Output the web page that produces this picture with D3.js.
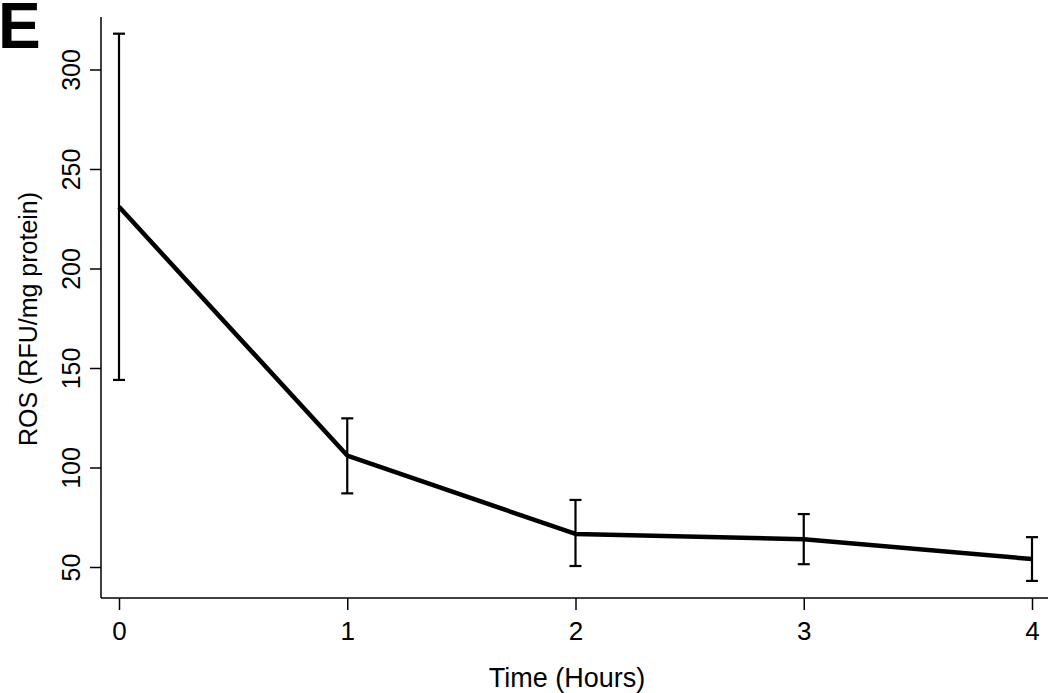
<!DOCTYPE html>
<meta charset='utf-8'>
<style>
  body { margin: 0; background: #fff; }
  svg text { font-family: Arial, "Liberation Sans", sans-serif; fill: #000; }
</style>
<body>
<div id="viz"></div>
<script src="https://d3js.org/d3.v7.min.js"></script>
<script>
// time points (hours) and ROS means with error bar ends
const hours = [0, 1, 2, 3, 4];
const rosMean = [231, 106, 66.6, 64, 54];
const rosLow = [144, 87, 50.5, 51.4, 43];
const rosHigh = [318, 124.7, 83.7, 76.6, 65];
const yTicks = [50, 100, 150, 200, 250, 300];

const data = hours.map((h, i) => ({ h: h, m: rosMean[i], lo: rosLow[i], hi: rosHigh[i] }));

const W = 1050, H = 693;
const svg = d3.select('#viz').append('svg').attr('width', W).attr('height', H);

const x = d3.scaleLinear().domain([0, 4]).range([119, 1032]);
const y = d3.scaleLinear().domain([50, 300]).range([567, 69.5]);

// panel letter
svg.append('text').attr('x', -2).attr('y', 48)
  .style('font-size', '64px').style('font-weight', 'bold').text('E');

// axes drawn as open L box
svg.append('line').attr('x1', 101).attr('x2', 101).attr('y1', 17).attr('y2', 598)
  .attr('stroke', '#000').attr('stroke-width', 1.5);
svg.append('line').attr('x1', 101).attr('x2', 1048).attr('y1', 598).attr('y2', 598)
  .attr('stroke', '#000').attr('stroke-width', 1.5);

const yAxis = svg.append('g').attr('transform', 'translate(101,0)')
  .call(d3.axisLeft(y).tickValues(yTicks).tickSize(11));
yAxis.select('.domain').remove();
// labels turned on their side, like the reference
yAxis.selectAll('text')
  .style('font-size', '25px')
  .attr('text-anchor', 'middle')
  .attr('x', 0).attr('y', 0).attr('dy', 0)
  .attr('transform', 'translate(-21,0) rotate(-90)');
yAxis.selectAll('line').attr('stroke-width', 1.5);

const xAxis = svg.append('g').attr('transform', 'translate(0,598)')
  .call(d3.axisBottom(x).tickValues(hours).tickFormat(d3.format('d')).tickSize(12).tickPadding(12));
xAxis.select('.domain').remove();
xAxis.selectAll('text').style('font-size', '26px');
xAxis.selectAll('line').attr('stroke-width', 1.5);

// axis titles
svg.append('text').attr('transform', 'translate(37,319) rotate(-90)')
  .attr('text-anchor', 'middle').style('font-size', '25px').text('ROS (RFU/mg protein)');
svg.append('text').attr('x', 567).attr('y', 687)
  .attr('text-anchor', 'middle').style('font-size', '27px').text('Time (Hours)');

// error bars
const eb = svg.append('g').attr('stroke', '#000').attr('stroke-width', 2.2);
eb.selectAll('line.v').data(data).join('line').attr('class', 'v')
  .attr('x1', d => x(d.h)).attr('x2', d => x(d.h))
  .attr('y1', d => y(d.lo)).attr('y2', d => y(d.hi));
eb.selectAll('line.t').data(data).join('line').attr('class', 't')
  .attr('x1', d => x(d.h) - 6).attr('x2', d => x(d.h) + 6)
  .attr('y1', d => y(d.hi)).attr('y2', d => y(d.hi));
eb.selectAll('line.b').data(data).join('line').attr('class', 'b')
  .attr('x1', d => x(d.h) - 6).attr('x2', d => x(d.h) + 6)
  .attr('y1', d => y(d.lo)).attr('y2', d => y(d.lo));

// mean line
svg.append('path').datum(data)
  .attr('fill', 'none').attr('stroke', '#000').attr('stroke-width', 4.5)
  .attr('stroke-linejoin', 'round')
  .attr('d', d3.line().x(d => x(d.h)).y(d => y(d.m)));
</script>
</body>
